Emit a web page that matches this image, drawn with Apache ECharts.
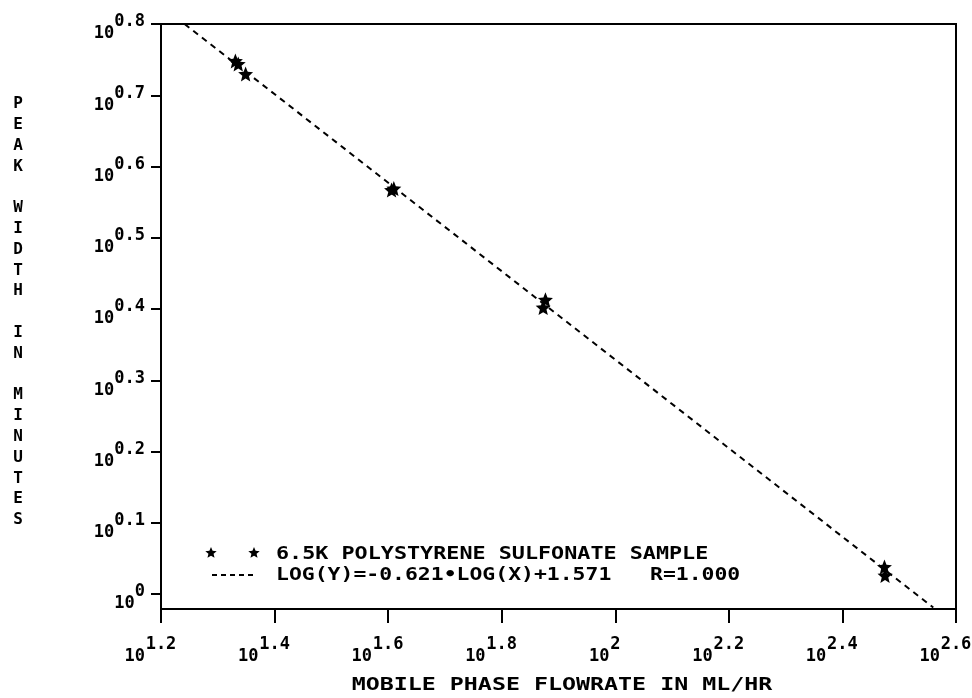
<!DOCTYPE html>
<html>
<head>
<meta charset="utf-8">
<script src="https://cdn.jsdelivr.net/npm/echarts@6/dist/echarts.min.js"></script>
<style>html,body{margin:0;padding:0;background:#fff}#c{width:972px;height:698px}</style>
</head>
<body>
<div id="c"></div>
<script>
// log10 of MOBILE PHASE FLOWRATE (ML/HR) and log10 of PEAK WIDTH (MINUTES)
const logFlow  = [1.331, 1.336, 1.349, 1.606, 1.610, 1.877, 1.873, 2.474, 2.475];
const logWidth = [0.748, 0.744, 0.730, 0.567, 0.569, 0.413, 0.402, 0.038, 0.026];
// fitted line LOG(Y)=-0.621*LOG(X)+1.571, endpoints as drawn (clipped to frame)
const fitLogFlow  = [1.2415, 2.560];
const fitLogWidth = [0.800, -0.019];
const xTicks = [1.2, 1.4, 1.6, 1.8, 2.0, 2.2, 2.4, 2.6];
const xTickLabels = ['1.2', '1.4', '1.6', '1.8', '2', '2.2', '2.4', '2.6'];
const yTicks = [0, 0.1, 0.2, 0.3, 0.4, 0.5, 0.6, 0.7, 0.8];
const yTickLabels = ['0', '0.1', '0.2', '0.3', '0.4', '0.5', '0.6', '0.7', '0.8'];
const legendSample = '6.5K POLYSTYRENE SULFONATE SAMPLE';
const legendFit = 'LOG(Y)=-0.621\u2022LOG(X)+1.571   R=1.000';
const xTitle = 'MOBILE PHASE FLOWRATE IN ML/HR';
const yTitle = 'PEAK WIDTH IN MINUTES';

const FONT = '"DejaVu Sans Mono", "Liberation Mono", monospace';
const STAR = 'path://M50,0 L63,32 L98,35 L71,57 L80,91 L50,73 L20,91 L29,57 L2,35 L37,32 Z';

function lab(ticks, labels, v) {
  for (let i = 0; i < ticks.length; i++) if (Math.abs(ticks[i] - v) < 1e-6) return labels[i];
  return '';
}
function starPts(cx, cy, r) {
  const p = [];
  for (let i = 0; i < 10; i++) {
    const a = -Math.PI / 2 + i * Math.PI / 5;
    const rr = i % 2 === 0 ? r : r * 0.45;
    p.push([cx + rr * Math.cos(a), cy + rr * Math.sin(a)]);
  }
  return p;
}

const scatterData = logFlow.map((x, i) => [x, logWidth[i]]);
const fitData = fitLogFlow.map((x, i) => [x, fitLogWidth[i]]);

const richBase = {
  b: { fontFamily: FONT, fontSize: 17, fontWeight: 'bold', color: '#000', lineHeight: 17, padding: [12, 0, 0, 0] },
  e: { fontFamily: FONT, fontSize: 17, fontWeight: 'bold', color: '#000', lineHeight: 17, padding: [0, 0, 12, 0] }
};

const chart = echarts.init(document.getElementById('c'), null, { renderer: 'canvas' });
chart.setOption({
  backgroundColor: '#fff',
  animation: false,
  grid: { left: 161, right: 16, top: 24, bottom: 89, containLabel: false, outerBoundsMode: 'none',
          show: true, borderColor: '#000', borderWidth: 2 },
  xAxis: {
    type: 'value', min: 1.2, max: 2.6,
    axisLine: { onZero: false, lineStyle: { color: '#000', width: 2 } },
    axisTick: { show: true, inside: false, length: 14, lineStyle: { color: '#000', width: 2 }, customValues: xTicks },
    axisLabel: {
      customValues: xTicks, margin: 33, align: 'center',
      formatter: v => '{b|10}{e|' + lab(xTicks, xTickLabels, v) + '}{s|}',
      rich: {
        b: Object.assign({}, richBase.b, { width: 22 }),
        e: richBase.e,
        s: { width: 22, lineHeight: 17 }
      }
    },
    splitLine: { show: false }
  },
  yAxis: {
    type: 'value', min: -0.021, max: 0.8,
    axisLine: { onZero: false, lineStyle: { color: '#000', width: 2 } },
    axisTick: { show: true, inside: false, length: 10, lineStyle: { color: '#000', width: 2 }, customValues: yTicks },
    axisLabel: {
      customValues: yTicks, margin: 16, padding: [8, 0, 0, 0],
      formatter: v => '{b|10}{e|' + lab(yTicks, yTickLabels, v) + '}',
      rich: richBase
    },
    splitLine: { show: false }
  },
  series: [
    {
      name: legendSample, type: 'scatter', data: scatterData,
      symbol: STAR, symbolSize: 15, itemStyle: { color: '#000', opacity: 1 }, z: 3
    },
    {
      name: 'fit', type: 'line', data: fitData, symbol: 'none', clip: true,
      lineStyle: { color: '#000', width: 2, type: [6, 5] }, z: 2
    }
  ],
  graphic: [
    { type: 'polygon', shape: { points: starPts(211, 553, 6) }, style: { fill: '#000' } },
    { type: 'polygon', shape: { points: starPts(254, 553, 6) }, style: { fill: '#000' } },
    { type: 'line', shape: { x1: 212, y1: 575, x2: 253, y2: 575 },
      style: { stroke: '#000', lineWidth: 2, lineDash: [5, 4] } },
    { type: 'text', x: 276, y: 555, scaleX: 1.28,
      style: { text: legendSample, font: 'bold 17px ' + FONT, fill: '#000', verticalAlign: 'middle', align: 'left' } },
    { type: 'text', x: 276, y: 576, scaleX: 1.26,
      style: { text: legendFit, font: 'bold 17px ' + FONT, fill: '#000', verticalAlign: 'middle', align: 'left' } },
    { type: 'text', x: 562, y: 686, scaleX: 1.37,
      style: { text: xTitle, font: 'bold 17px ' + FONT, fill: '#000', verticalAlign: 'middle', align: 'center' } },
    { type: 'text', x: 18, y: 93.6,
      style: { text: yTitle.split(' ').map(w => w.split('').join('\n')).join('\n\n'),
               font: 'bold 16px ' + FONT, lineHeight: 20.8, fill: '#000', verticalAlign: 'top', align: 'center' } }
  ]
});
</script>
</body>
</html>
